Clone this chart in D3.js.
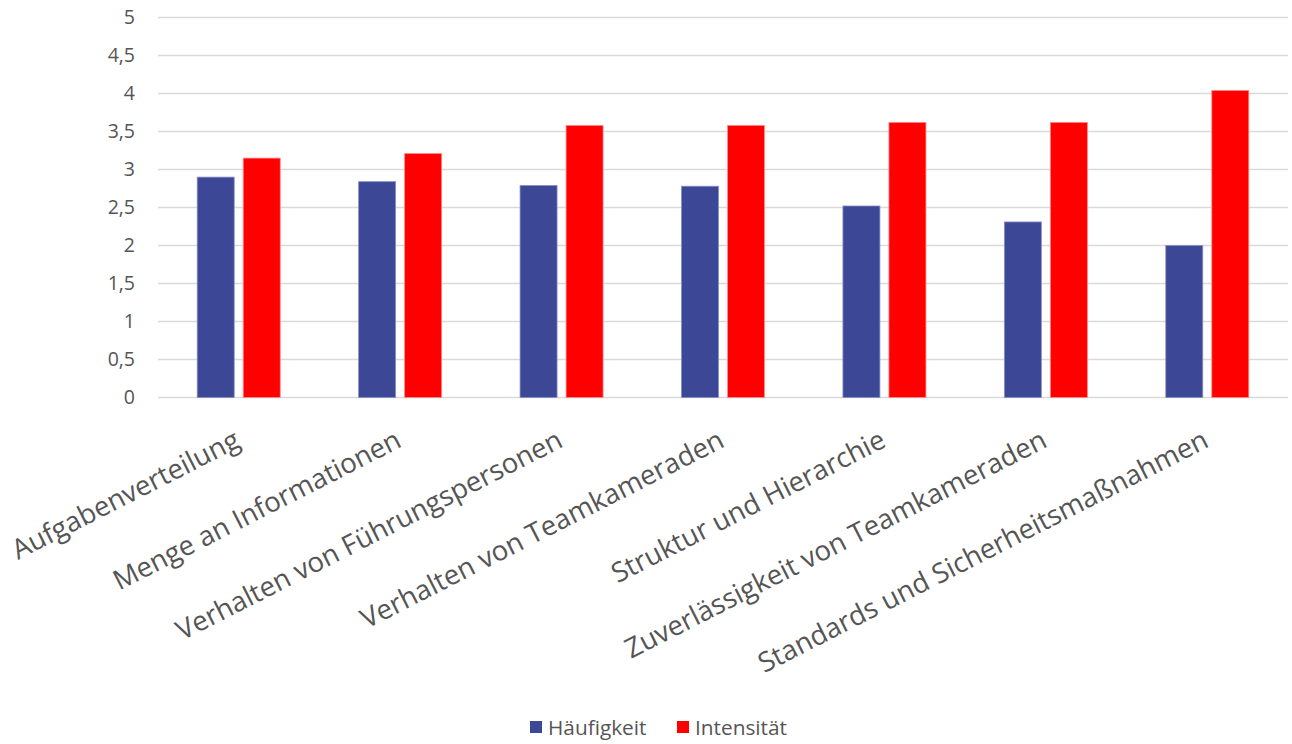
<!DOCTYPE html>
<html><head><meta charset="utf-8">
<script src="https://cdn.jsdelivr.net/npm/d3@7"></script>
<style>body{margin:0;background:#fff;} text{font-family:"Open Sans",sans-serif;fill:#555555;}</style>
</head><body>
<svg id="c" width="1292" height="744"></svg>
<script>
const categories = ["Aufgabenverteilung","Menge an Informationen","Verhalten von Führungspersonen","Verhalten von Teamkameraden","Struktur und Hierarchie","Zuverlässigkeit von Teamkameraden","Standards und Sicherheitsmaßnahmen"];
const seriesNames = ["Häufigkeit","Intensität"];
const haeufigkeit = [2.90, 2.84, 2.79, 2.78, 2.52, 2.31, 2.00];
const intensitaet = [3.15, 3.21, 3.58, 3.58, 3.62, 3.62, 4.04];
const yTicks = [0,0.5,1,1.5,2,2.5,3,3.5,4,4.5,5];
const colors = ["#3C4795","#FF0000"];

(function(){
const svg = d3.select("#c");
const pLeft = 158, pRight = 1288, pTop = 17.5, pBottom = 397.5;
const x = d3.scaleBand().domain(categories).range([pLeft, pRight]).paddingInner(0).paddingOuter(0);
const y = d3.scaleLinear().domain([0,5]).range([pBottom, pTop]);
const fmt = v => String(v).replace(".", ",");

// gridlines
svg.append("g").selectAll("line").data(yTicks).join("line")
  .attr("x1", pLeft).attr("x2", pRight)
  .attr("y1", d => y(d)).attr("y2", d => y(d))
  .attr("stroke", "#d9d9d9").attr("stroke-width", 1.3);

// y axis labels
const yAxis = d3.axisLeft(y).tickValues(yTicks).tickFormat(fmt).tickSize(0).tickPadding(0);
const ga = svg.append("g").attr("transform", `translate(${135},0)`).call(yAxis);
ga.select(".domain").remove();
ga.selectAll("text").attr("font-size", 19.5).attr("fill", "#555555").attr("font-family", "Open Sans");

// bars
const inner = d3.scaleBand().domain(seriesNames).range([0, x.bandwidth()]).paddingInner(0.1957).paddingOuter(0.852);
const data = categories.map((c,i)=>({c, vals:[haeufigkeit[i], intensitaet[i]]}));
const g = svg.append("g");
data.forEach(d => {
  d.vals.forEach((v,j) => {
    g.append("rect")
      .attr("x", x(d.c) + inner(seriesNames[j]))
      .attr("width", inner.bandwidth())
      .attr("y", y(v)).attr("height", y(0) - y(v))
      .attr("fill", colors[j])
      .attr("stroke", j===0 ? "#8a90c4" : "#ff8a8a").attr("stroke-width", 0.8);
  });
});

// x labels
const xl = svg.append("g");
categories.forEach(c => {
  const cx = x(c) + x.bandwidth()/2 + 3;
  xl.append("text").attr("transform", `translate(${cx},${446}) rotate(-27)`)
    .attr("text-anchor","end").attr("font-size", 27.5).text(c);
});

// legend
const leg = svg.append("g");
const legItems = [{n:seriesNames[0], x:530},{n:seriesNames[1], x:677}];
legItems.forEach((it,i)=>{
  leg.append("rect").attr("x", it.x).attr("y", 721).attr("width", 12).attr("height", 12).attr("fill", colors[i]);
  leg.append("text").attr("x", it.x+18).attr("y", 735).attr("font-size", 20.8).text(it.n);
});
})();
</script>
</body></html>
